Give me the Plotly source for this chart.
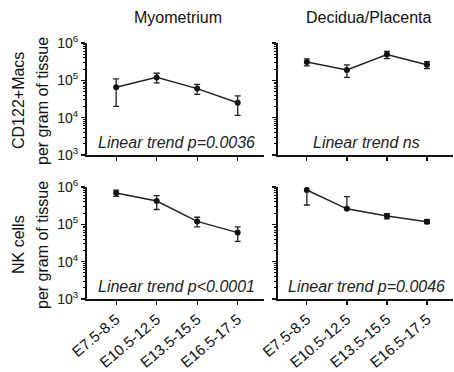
import plotly.graph_objects as go

categories = ["E7.5-8.5", "E10.5-12.5", "E13.5-15.5", "E16.5-17.5"]

macs_myo = [6.5e4, 1.2e5, 6.0e4, 2.5e4]
macs_myo_err = [4.5e4, 3.5e4, 1.8e4, 1.35e4]

macs_dec = [3.1e5, 1.9e5, 4.9e5, 2.6e5]
macs_dec_err = [6.5e4, 7.0e4, 1.1e5, 5.5e4]

nk_myo = [6.9e5, 4.2e5, 1.2e5, 6.0e4]
nk_myo_err = [1.3e5, 1.7e5, 3.5e4, 2.5e4]

nk_dec = [8.3e5, 2.6e5, 1.67e5, 1.18e5]
nk_dec_err_plus = [5.5e5, 2.9e5, 2.7e4, 1.6e4]
nk_dec_err_minus = [5.0e5, 0.0, 2.7e4, 1.4e4]

col_titles = ["Myometrium", "Decidua/Placenta"]
row_title_lines = [["CD122+Macs", "per gram of tissue"], ["NK cells", "per gram of tissue"]]
trend_texts = ["Linear trend p=0.0036", "Linear trend ns",
               "Linear trend p&lt;0.0001", "Linear trend p=0.0046"]
ytick_vals = [1e3, 1e4, 1e5, 1e6]
ytick_text = ["10<sup>3</sup>", "10<sup>4</sup>", "10<sup>5</sup>", "10<sup>6</sup>"]
minor_vals = [m * d for d in (1e3, 1e4, 1e5) for m in range(2, 10)]

W, H = 454, 372
FONT = "Liberation Sans, Arial, sans-serif"
INK = "#111111"

xdom = [[87 / W, 264 / W], [278 / W, 453 / W]]
ydom = [[(H - 155) / H, (H - 43) / H], [(H - 299) / H, (H - 187) / H]]

fig = go.Figure()

panels = [
    (macs_myo, macs_myo_err, macs_myo_err),
    (macs_dec, macs_dec_err, macs_dec_err),
    (nk_myo, nk_myo_err, nk_myo_err),
    (nk_dec, nk_dec_err_plus, nk_dec_err_minus),
]

for i, (vals, ep, em) in enumerate(panels):
    r, c = divmod(i, 2)
    n = i + 1
    xa = "x" if n == 1 else f"x{n}"
    ya = "y" if n == 1 else f"y{n}"
    fig.add_trace(go.Scatter(
        x=categories, y=vals, xaxis=xa, yaxis=ya, mode="lines+markers",
        line=dict(color="#222222", width=1.5),
        marker=dict(color="#111111", size=6),
        error_y=dict(type="data", symmetric=False, array=ep, arrayminus=em,
                     color="#222222", thickness=1.3, width=3),
        cliponaxis=False, showlegend=False, hoverinfo="skip",
    ))
    xkey = "xaxis" if n == 1 else f"xaxis{n}"
    ykey = "yaxis" if n == 1 else f"yaxis{n}"
    fig.layout[xkey] = dict(
        domain=xdom[c], anchor=ya, type="category", range=[-0.72, 3.65],
        showline=True, linecolor=INK, linewidth=2, ticks="outside",
        ticklen=4, tickwidth=1.3, tickcolor=INK, showgrid=False, zeroline=False,
        tickangle=-40, showticklabels=(r == 1), automargin=False,
        tickfont=dict(family=FONT, size=15, color=INK),
    )
    fig.layout[ykey] = dict(
        domain=ydom[r], anchor=xa, type="log", range=[3, 6],
        showline=True, linecolor=INK, linewidth=2, ticks="outside",
        ticklen=4, tickwidth=1.3, tickcolor=INK, showgrid=False, zeroline=False,
        tickvals=ytick_vals, ticktext=ytick_text, showticklabels=(c == 0),
        automargin=False,
        tickfont=dict(family=FONT, size=14, color=INK),
        minor=dict(ticks="outside", ticklen=2.5, tickwidth=1, tickcolor=INK,
                   tickvals=minor_vals, showgrid=False),
    )
    fig.add_annotation(
        text=f"<i>{trend_texts[i]}</i>", xref="paper", yref="paper",
        x=(xdom[c][0] + xdom[c][1]) / 2 + 1 / W, y=ydom[r][0] + 13 / H,
        showarrow=False, xanchor="center", yanchor="middle",
        font=dict(family=FONT, size=16, color="#222222"),
    )

for c, t in enumerate(col_titles):
    fig.add_annotation(
        text=t, xref="paper", yref="paper",
        x=(xdom[c][0] + xdom[c][1]) / 2 + 3 / W, y=(H - 18) / H,
        showarrow=False, xanchor="center", yanchor="middle",
        font=dict(family=FONT, size=16, color=INK),
    )

for r, lines in enumerate(row_title_lines):
    for k, t in enumerate(lines):
        fig.add_annotation(
            text=t, xref="paper", yref="paper",
            x=(18 + 24 * k) / W, y=(ydom[r][0] + ydom[r][1]) / 2 - 2 / H,
            showarrow=False, xanchor="center", yanchor="middle", textangle=-90,
            font=dict(family=FONT, size=16, color=INK),
        )

fig.update_layout(
    width=W, height=H, margin=dict(l=0, r=0, t=0, b=0, autoexpand=False),
    paper_bgcolor="white", plot_bgcolor="white",
    font=dict(family=FONT, color=INK), hovermode=False,
)

fig.write_html(
    "out.html",
    config={"displayModeBar": False, "staticPlot": True},
    post_script="document.body.style.margin='0';document.body.style.overflow='hidden';",
)
